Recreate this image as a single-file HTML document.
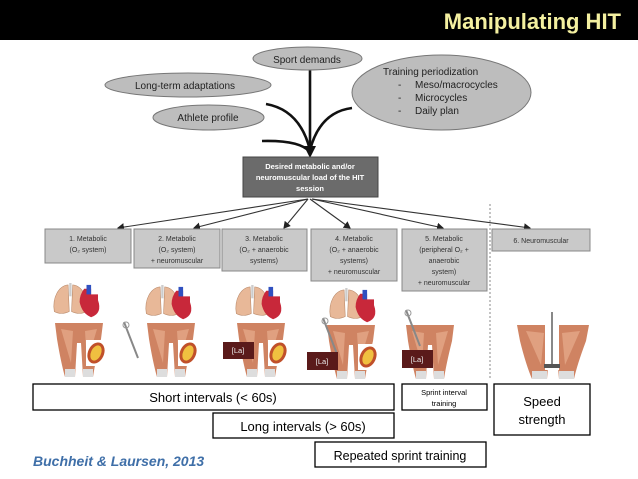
<!DOCTYPE html>
<html><head><meta charset="utf-8"><style>
html,body{margin:0;padding:0;background:#fff;}
body{width:638px;height:479px;overflow:hidden;position:relative;font-family:"Liberation Sans",sans-serif;}
</style></head><body>
<svg width="638" height="479" viewBox="0 0 638 479" xmlns="http://www.w3.org/2000/svg" style="position:absolute;left:0;top:0">
<defs>
<marker id="ah" markerWidth="8" markerHeight="8" refX="6" refY="4" orient="auto" markerUnits="userSpaceOnUse"><path d="M0,0 L7,4 L0,8 z" fill="#222"/></marker>
<g id="lh">
<path d="M2,30 C0,15 6,3 14,2 L15,30 Q8,34 2,30z" fill="#e8b898" stroke="#b88868" stroke-width="0.5"/>
<path d="M30,30 C32,15 26,3 18,2 L17,30 Q24,34 30,30z" fill="#e8b898" stroke="#b88868" stroke-width="0.5"/>
<rect x="15" y="0" width="2" height="14" fill="#ccc"/>
<path d="M28,6 L34,6 L34,12 L40,12 L40,18 Q44,32 34,36 Q26,32 24,20 Q24,12 28,6z" fill="#c8283a"/>
<rect x="30" y="2" width="4" height="10" fill="#3050c0"/>
</g>
<g id="legs">
<path d="M0,0 L48,0 L46,16 Q40,40 38,54 L28,54 L26,20 L22,20 L20,54 L10,54 Q6,40 2,16z" fill="#cf8362"/>
<path d="M6,6 L18,8 L16,40 Z M42,6 L30,8 L32,40Z" fill="#e0a080"/>
<rect x="10" y="46" width="10" height="8" fill="#ddd"/><rect x="28" y="46" width="10" height="8" fill="#ddd"/>
</g>
<g id="mito">
<rect x="0" y="0" width="20" height="26" fill="#fff"/>
<ellipse cx="10" cy="13" rx="8" ry="11" fill="#c0502a" transform="rotate(25 10 13)"/>
<ellipse cx="10" cy="13" rx="5" ry="8" fill="#f0c040" transform="rotate(25 10 13)"/>
</g>
<g id="neuron">
<line x1="0" y1="0" x2="14" y2="36" stroke="#888" stroke-width="2"/>
<circle cx="2" cy="3" r="3" fill="none" stroke="#999"/>
</g>
</defs>
<rect x="0" y="0" width="638" height="40" fill="#000"/>
<text x="621" y="29" text-anchor="end" font-family="Liberation Sans" font-weight="bold" font-size="22" fill="#f4f0a0">Manipulating HIT</text>

<g stroke="#111" stroke-width="2.6" fill="none">
<path d="M310,70 L310,150"/>
<path d="M266,104 Q300,110 310,150"/>
<path d="M262,141 Q300,140 310,152"/>
<path d="M352,108 Q320,112 310,150"/>
</g>
<path d="M304,146 L310,158 L316,146z" fill="#111"/>

<ellipse cx="307.5" cy="58.5" rx="54.5" ry="11.5" fill="#bdbdbd" stroke="#777"/>
<text x="307" y="63" text-anchor="middle" font-size="10" fill="#222">Sport demands</text>
<ellipse cx="188" cy="85" rx="83" ry="12" fill="#bdbdbd" stroke="#777"/>
<text x="185" y="89" text-anchor="middle" font-size="10" fill="#222">Long-term adaptations</text>
<ellipse cx="208.5" cy="117.5" rx="55.5" ry="12.5" fill="#bdbdbd" stroke="#777"/>
<text x="208" y="121" text-anchor="middle" font-size="10" fill="#222">Athlete profile</text>
<ellipse cx="441.5" cy="92.5" rx="89.5" ry="37.5" fill="#bdbdbd" stroke="#777"/>
<g font-size="10" fill="#222"><text x="383" y="75">Training periodization</text>
<text x="398" y="88">-</text><text x="415" y="88">Meso/macrocycles</text>
<text x="398" y="101">-</text><text x="415" y="101">Microcycles</text>
<text x="398" y="114">-</text><text x="415" y="114">Daily plan</text></g>

<rect x="243" y="157" width="135" height="40" fill="#6b6b6b" stroke="#444"/>
<g font-size="7.5" font-weight="bold" fill="#fff" text-anchor="middle">
<text x="310" y="169">Desired metabolic and/or</text>
<text x="310" y="180">neuromuscular load of the HIT</text>
<text x="310" y="191">session</text></g>

<g stroke="#333" stroke-width="1.1" marker-end="url(#ah)">
<line x1="308" y1="199" x2="118" y2="228"/>
<line x1="308" y1="199" x2="194" y2="228"/>
<line x1="308" y1="199" x2="284" y2="228"/>
<line x1="310" y1="199" x2="350" y2="228"/>
<line x1="312" y1="199" x2="443" y2="228"/>
<line x1="312" y1="199" x2="530" y2="228"/>
</g>
<line x1="490" y1="204" x2="490" y2="380" stroke="#888" stroke-dasharray="2,2"/>

<g fill="#c9c9c9" stroke="#888">
<rect x="45" y="229" width="86" height="34"/>
<rect x="134" y="229" width="86" height="39"/>
<rect x="222" y="229" width="85" height="42"/>
<rect x="311" y="229" width="86" height="52"/>
<rect x="402" y="229" width="85" height="62"/>
<rect x="492" y="229" width="98" height="22"/>
</g>
<g font-size="7" fill="#333" text-anchor="middle">
<text x="88" y="241">1. Metabolic</text><text x="88" y="252">(O₂ system)</text>
<text x="177" y="241">2. Metabolic</text><text x="177" y="252">(O₂ system)</text><text x="177" y="263">+ neuromuscular</text>
<text x="264" y="241">3. Metabolic</text><text x="264" y="252">(O₂ + anaerobic</text><text x="264" y="263">systems)</text>
<text x="354" y="241">4. Metabolic</text><text x="354" y="252">(O₂ + anaerobic</text><text x="354" y="263">systems)</text><text x="354" y="274">+ neuromuscular</text>
<text x="444" y="241">5. Metabolic</text><text x="444" y="252">(peripheral O₂ +</text><text x="444" y="263">anaerobic</text><text x="444" y="274">system)</text><text x="444" y="285">+ neuromuscular</text>
<text x="541" y="243">6. Neuromuscular</text>
</g>

<use href="#lh" transform="translate(52,283) scale(1.15,0.95)"/>
<use href="#lh" transform="translate(144,285) scale(1.15,0.95)"/>
<use href="#lh" transform="translate(234,285) scale(1.15,0.95)"/>
<use href="#lh" transform="translate(328,288) scale(1.15,0.95)"/>
<use href="#legs" x="55" y="323"/>
<use href="#legs" x="147" y="323"/>
<use href="#legs" x="237" y="323"/>
<use href="#legs" x="327" y="325"/>
<use href="#legs" x="406" y="325"/>
<use href="#legs" transform="translate(517,325) scale(1.5,1)"/>
<use href="#mito" x="86" y="340"/>
<use href="#mito" x="178" y="340"/>
<use href="#mito" x="268" y="340"/>
<use href="#mito" x="358" y="344"/>
<use href="#neuron" x="124" y="322"/>
<use href="#neuron" x="323" y="318"/>
<use href="#neuron" x="406" y="310"/>
<rect x="545" y="322" width="14" height="48" fill="#fff"/>
<line x1="552" y1="312" x2="552" y2="366" stroke="#888" stroke-width="2"/>
<rect x="544" y="364" width="16" height="4" fill="#555"/>

<g fill="#5a1a1a"><rect x="223" y="342" width="31" height="17"/><rect x="307" y="352" width="31" height="18"/><rect x="402" y="350" width="31" height="18"/></g>
<g font-size="7.5" fill="#eee" text-anchor="middle"><text x="238" y="353">[La]</text><text x="322" y="364">[La]</text><text x="417" y="362">[La]</text></g>

<g fill="#fff" stroke="#000" stroke-width="1.3">
<rect x="33" y="384" width="361" height="26"/>
<rect x="213" y="413" width="181" height="25"/>
<rect x="315" y="442" width="171" height="25"/>
<rect x="402" y="384" width="85" height="26"/>
<rect x="494" y="384" width="96" height="51"/>
</g>
<g fill="#000" text-anchor="middle">
<text x="213" y="402" font-size="13">Short intervals (&lt; 60s)</text>
<text x="303" y="431" font-size="13">Long intervals (&gt; 60s)</text>
<text x="400" y="460" font-size="12.5">Repeated sprint training</text>
<text x="444" y="395" font-size="7.5">Sprint interval</text>
<text x="444" y="406" font-size="7.5">training</text>
<text x="542" y="406" font-size="13">Speed</text>
<text x="542" y="424" font-size="13">strength</text>
</g>
<text x="33" y="466" font-size="14" font-weight="bold" font-style="italic" fill="#3f6fa8">Buchheit &amp; Laursen, 2013</text>
</svg>
</body></html>
